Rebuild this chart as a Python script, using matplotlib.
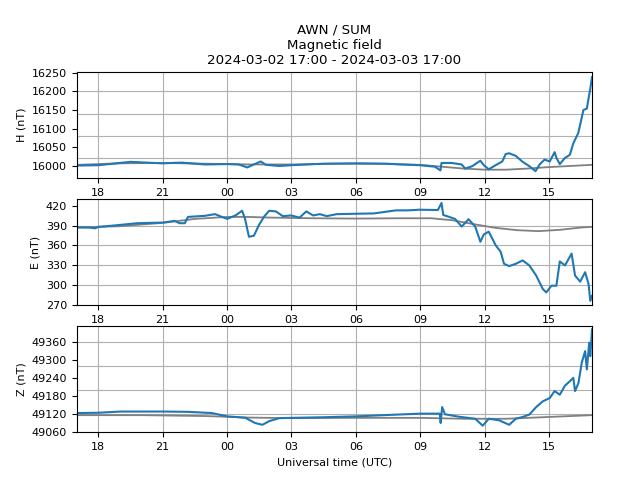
import datetime as dt
import matplotlib
matplotlib.use("Agg")
import matplotlib.pyplot as plt
import matplotlib.dates as mdates

plt.rcParams['font.size'] = 8

START = dt.datetime(2024, 3, 2, 17, 0)
END = dt.datetime(2024, 3, 3, 17, 0)

# ---- H component (hours since start, nT)
h_hours = [0.0, 1.0, 2.5, 4.0, 4.87, 5.97, 7.0, 7.54, 7.94, 8.25, 8.57, 8.81, 9.44, 9.99,
           11.48, 13.02, 14.47, 15.1, 15.98, 16.68, 16.94, 16.99, 17.46, 17.93, 18.09,
           18.41, 18.8, 18.96, 19.19, 19.51, 19.82, 19.98, 20.14, 20.45, 20.77, 21.09,
           21.37, 21.56, 21.79, 22.03, 22.26, 22.34, 22.5, 22.73, 22.97, 23.13, 23.36,
           23.6, 23.76, 23.84, 23.92, 24.0]
h_vals = [16001, 16002, 16011, 16007, 16009, 16004, 16005, 16004, 15996, 16004, 16012, 16003,
          16000, 16002, 16006, 16007, 16006, 16004, 16002, 15998, 15988, 16008, 16008, 16004,
          15993, 15999, 16014, 16002, 15991, 16002, 16012, 16032, 16034, 16027, 16011, 15999,
          15986, 16004, 16017, 16012, 16037, 16022, 16005, 16021, 16030, 16061, 16088, 16150,
          16154, 16181, 16207, 16238]
h_base_hours = [0, 2, 4, 6, 8, 10, 12, 14, 16, 17, 18, 19, 20, 21, 22, 23, 24]
h_base = [16003, 16007, 16008, 16006, 16004, 16004, 16006, 16006, 16003, 15998, 15993,
          15990, 15990, 15993, 15997, 16000, 16003]

# ---- E component
e_hours = [0.02, 0.62, 0.85, 1.0, 1.72, 2.82, 4.02, 4.55, 4.79, 5.03, 5.18, 5.97, 6.44,
           6.76, 7.01, 7.39, 7.70, 7.83, 8.02, 8.25, 8.49, 8.73, 8.96, 9.28, 9.59, 9.99,
           10.38, 10.69, 11.01, 11.32, 11.64, 12.11, 13.02, 13.84, 14.86, 15.41, 15.98,
           16.82, 16.99, 17.07, 17.62, 17.93, 18.25, 18.56, 18.80, 18.96, 19.19, 19.51,
           19.75, 19.90, 20.14, 20.45, 20.77, 21.08, 21.40, 21.71, 21.87, 22.11, 22.34,
           22.50, 22.74, 23.05, 23.21, 23.45, 23.68, 23.84, 23.92, 24.0]
e_vals = [387.3, 386.8, 385.8, 387.9, 390.0, 393.5, 394.5, 397.0, 393.5, 393.5, 403.0,
          404.7, 407.2, 403.0, 400.1, 405.2, 412.3, 401.1, 373.0, 374.6, 391.0, 403.7,
          412.3, 411.3, 404.2, 405.2, 402.0, 411.3, 405.2, 407.2, 404.2, 407.2, 407.8,
          408.3, 412.9, 412.9, 413.9, 413.4, 424.1, 406.0, 400.0, 388.4, 399.6, 388.4,
          365.4, 376.6, 380.7, 360.3, 350.1, 332.2, 328.7, 332.2, 337.3, 329.7, 314.4,
          294.0, 288.9, 299.1, 299.0, 335.8, 329.7, 347.6, 314.4, 305.2, 319.5, 301.6,
          276.1, 283.8]
e_base_hours = [0, 2, 4, 5.5, 7, 8, 9, 11, 13, 15, 16.5, 17.5, 18.5, 19.5, 20.5, 21.5,
                22.5, 23.5, 24]
e_base = [387, 389, 394, 400, 403, 403, 402, 401, 400.5, 401, 401, 398, 392, 386.5, 383,
          381.5, 383.5, 387, 388]

# ---- Z component
z_hours = [0.02, 1.0, 2.04, 4.02, 5.18, 6.29, 7.01, 7.39, 7.86, 8.30, 8.65, 8.96, 9.43,
           9.99, 11.48, 13.02, 14.63, 15.98, 16.91, 16.95, 17.02, 17.15, 17.78, 18.56,
           18.91, 19.19, 19.67, 20.14, 20.45, 20.77, 21.08, 21.40, 21.71, 22.03, 22.26,
           22.50, 22.74, 22.97, 23.13, 23.21, 23.37, 23.52, 23.68, 23.76, 23.87, 23.92, 24.0]
z_vals = [49123, 49124, 49128, 49128, 49127, 49123, 49112, 49110, 49107, 49090, 49084,
          49096, 49106, 49107, 49109, 49112, 49117, 49121, 49121, 49090, 49143, 49119,
          49111, 49104, 49081, 49104, 49099, 49084, 49104, 49110, 49118, 49143, 49162,
          49173, 49196, 49184, 49214, 49229, 49240, 49196, 49223, 49290, 49329, 49268,
          49357, 49312, 49401]
z_base_hours = [0, 3, 6, 8, 10, 13, 16, 18, 20, 22, 24]
z_base = [49116, 49116, 49113, 49108, 49106, 49107, 49107, 49104, 49104, 49110, 49116]

panels = [
    ("H (nT)", h_hours, h_vals, h_base_hours, h_base, (15968, 16252),
     [16000, 16050, 16100, 16150, 16200, 16250], [16020, 16080, 16140, 16200]),
    ("E (nT)", e_hours, e_vals, e_base_hours, e_base, (270, 430),
     [270, 300, 330, 360, 390, 420], [300, 330, 360, 390]),
    ("Z (nT)", z_hours, z_vals, z_base_hours, z_base, (49060, 49412),
     [49060, 49120, 49180, 49240, 49300, 49360], [49120, 49200, 49280, 49360]),
]


def to_times(hours):
    return [START + dt.timedelta(hours=h) for h in hours]


fig, axes = plt.subplots(3, 1, figsize=(6.4, 4.8), dpi=100)
fig.subplots_adjust(left=0.12, right=0.925, top=0.85, bottom=0.1, hspace=0.2)

for ax, (lab, hrs, vals, bh, bv, ylim, yt, ygrid) in zip(axes, panels):
    ax.plot(to_times(bh), bv, color='gray', lw=1.3)
    ax.plot(to_times(hrs), vals, color='#1f77b4', lw=1.5)
    ax.set_xlim(START, END)
    ax.set_ylim(*ylim)
    ax.set_yticks(yt)
    ax.set_ylabel(lab)
    ax.xaxis.set_major_locator(mdates.HourLocator(byhour=range(0, 24, 3)))
    ax.xaxis.set_major_formatter(mdates.DateFormatter('%H'))
    ax.grid(axis='x', color='#b0b0b0', lw=0.8)
    for g in ygrid:
        ax.axhline(g, color='#b0b0b0', lw=0.8, zorder=0.5)

axes[0].set_title("AWN / SUM\nMagnetic field\n2024-03-02 17:00 - 2024-03-03 17:00",
                  fontsize=9.6)
axes[2].set_xlabel("Universal time (UTC)")

fig.savefig("out.png", dpi=100)
